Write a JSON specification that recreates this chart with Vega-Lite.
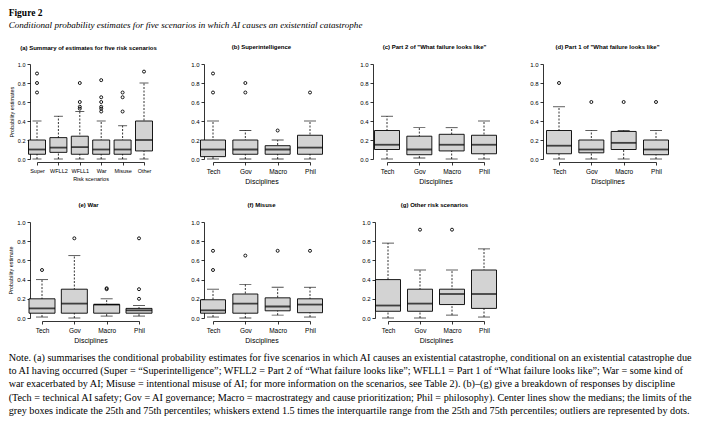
{
  "$schema": "https://vega.github.io/schema/vega-lite/v6.json",
  "padding": {"left": 8, "top": 8, "right": 2, "bottom": 2},
  "title": {
    "text": "Figure 2",
    "subtitle": "Conditional probability estimates for five scenarios in which AI causes an existential catastrophe",
    "anchor": "start",
    "frame": "bounds",
    "font": "Liberation Serif",
    "fontSize": 9.5,
    "fontWeight": "bold",
    "color": "black",
    "subtitleFont": "Liberation Serif",
    "subtitleFontSize": 9.1,
    "subtitleFontStyle": "italic",
    "subtitleColor": "black",
    "subtitlePadding": 3,
    "offset": 14
  },
  "datasets": {
    "d": [
      {"p": "a", "c": "Super", "lo": 0, "q1": 0.05, "med": 0.1, "q3": 0.2, "hi": 0.4},
      {"p": "a", "c": "WFLL2", "lo": 0, "q1": 0.07, "med": 0.12, "q3": 0.225, "hi": 0.45},
      {"p": "a", "c": "WFLL1", "lo": 0, "q1": 0.05, "med": 0.125, "q3": 0.24, "hi": 0.5},
      {"p": "a", "c": "War", "lo": 0, "q1": 0.05, "med": 0.1, "q3": 0.2, "hi": 0.4},
      {"p": "a", "c": "Misuse", "lo": 0, "q1": 0.05, "med": 0.1, "q3": 0.2, "hi": 0.35},
      {"p": "a", "c": "Other", "lo": 0, "q1": 0.085, "med": 0.2, "q3": 0.4, "hi": 0.8},
      {"p": "a", "c": "Super", "v": 0.7}, {"p": "a", "c": "Super", "v": 0.8}, {"p": "a", "c": "Super", "v": 0.9},
      {"p": "a", "c": "WFLL1", "v": 0.53}, {"p": "a", "c": "WFLL1", "v": 0.55}, {"p": "a", "c": "WFLL1", "v": 0.6}, {"p": "a", "c": "WFLL1", "v": 0.8},
      {"p": "a", "c": "War", "v": 0.5}, {"p": "a", "c": "War", "v": 0.53}, {"p": "a", "c": "War", "v": 0.55}, {"p": "a", "c": "War", "v": 0.6}, {"p": "a", "c": "War", "v": 0.65}, {"p": "a", "c": "War", "v": 0.83},
      {"p": "a", "c": "Misuse", "v": 0.5}, {"p": "a", "c": "Misuse", "v": 0.65}, {"p": "a", "c": "Misuse", "v": 0.7},
      {"p": "a", "c": "Other", "v": 0.92},

      {"p": "b", "c": "Tech", "lo": 0, "q1": 0.025, "med": 0.1, "q3": 0.2, "hi": 0.4},
      {"p": "b", "c": "Gov", "lo": 0, "q1": 0.05, "med": 0.1, "q3": 0.2, "hi": 0.3},
      {"p": "b", "c": "Macro", "lo": 0, "q1": 0.05, "med": 0.1, "q3": 0.14, "hi": 0.2},
      {"p": "b", "c": "Phil", "lo": 0, "q1": 0.05, "med": 0.12, "q3": 0.25, "hi": 0.4},
      {"p": "b", "c": "Tech", "v": 0.7}, {"p": "b", "c": "Tech", "v": 0.9},
      {"p": "b", "c": "Gov", "v": 0.7}, {"p": "b", "c": "Gov", "v": 0.8},
      {"p": "b", "c": "Macro", "v": 0.3},
      {"p": "b", "c": "Phil", "v": 0.7},

      {"p": "c", "c": "Tech", "lo": 0, "q1": 0.1, "med": 0.15, "q3": 0.3, "hi": 0.45},
      {"p": "c", "c": "Gov", "lo": 0.01, "q1": 0.045, "med": 0.1, "q3": 0.24, "hi": 0.33},
      {"p": "c", "c": "Macro", "lo": 0, "q1": 0.085, "med": 0.15, "q3": 0.26, "hi": 0.33},
      {"p": "c", "c": "Phil", "lo": 0, "q1": 0.055, "med": 0.15, "q3": 0.25, "hi": 0.4},

      {"p": "d", "c": "Tech", "lo": 0, "q1": 0.055, "med": 0.14, "q3": 0.3, "hi": 0.55},
      {"p": "d", "c": "Gov", "lo": 0, "q1": 0.065, "med": 0.1, "q3": 0.2, "hi": 0.3},
      {"p": "d", "c": "Macro", "lo": 0, "q1": 0.1, "med": 0.17, "q3": 0.29, "hi": 0.3},
      {"p": "d", "c": "Phil", "lo": 0, "q1": 0.045, "med": 0.1, "q3": 0.2, "hi": 0.3},
      {"p": "d", "c": "Tech", "v": 0.8}, {"p": "d", "c": "Gov", "v": 0.6}, {"p": "d", "c": "Macro", "v": 0.6}, {"p": "d", "c": "Phil", "v": 0.6},

      {"p": "e", "c": "Tech", "lo": 0.01, "q1": 0.05, "med": 0.1, "q3": 0.2, "hi": 0.4},
      {"p": "e", "c": "Gov", "lo": 0, "q1": 0.05, "med": 0.15, "q3": 0.3, "hi": 0.65},
      {"p": "e", "c": "Macro", "lo": 0.02, "q1": 0.05, "med": 0.14, "q3": 0.14, "hi": 0.2},
      {"p": "e", "c": "Phil", "lo": 0.02, "q1": 0.05, "med": 0.08, "q3": 0.1, "hi": 0.13},
      {"p": "e", "c": "Tech", "v": 0.5}, {"p": "e", "c": "Gov", "v": 0.83},
      {"p": "e", "c": "Macro", "v": 0.3}, {"p": "e", "c": "Macro", "v": 0.31},
      {"p": "e", "c": "Phil", "v": 0.2}, {"p": "e", "c": "Phil", "v": 0.3}, {"p": "e", "c": "Phil", "v": 0.83},

      {"p": "f", "c": "Tech", "lo": 0.01, "q1": 0.05, "med": 0.08, "q3": 0.19, "hi": 0.3},
      {"p": "f", "c": "Gov", "lo": 0, "q1": 0.05, "med": 0.15, "q3": 0.25, "hi": 0.35},
      {"p": "f", "c": "Macro", "lo": 0.03, "q1": 0.075, "med": 0.12, "q3": 0.21, "hi": 0.32},
      {"p": "f", "c": "Phil", "lo": 0.01, "q1": 0.055, "med": 0.14, "q3": 0.2, "hi": 0.32},
      {"p": "f", "c": "Tech", "v": 0.5}, {"p": "f", "c": "Tech", "v": 0.7}, {"p": "f", "c": "Gov", "v": 0.65}, {"p": "f", "c": "Macro", "v": 0.7}, {"p": "f", "c": "Phil", "v": 0.7},

      {"p": "g", "c": "Tech", "lo": 0, "q1": 0.07, "med": 0.13, "q3": 0.4, "hi": 0.78},
      {"p": "g", "c": "Gov", "lo": 0, "q1": 0.07, "med": 0.15, "q3": 0.3, "hi": 0.5},
      {"p": "g", "c": "Macro", "lo": 0.03, "q1": 0.14, "med": 0.25, "q3": 0.3, "hi": 0.5},
      {"p": "g", "c": "Phil", "lo": 0.01, "q1": 0.1, "med": 0.25, "q3": 0.5, "hi": 0.72},
      {"p": "g", "c": "Gov", "v": 0.92}, {"p": "g", "c": "Macro", "v": 0.92}
    ]
  },
  "vconcat": [
    {
      "hconcat": [
        {
          "width": 97, "height": 95,
          "title": {"text": "(a) Summary of estimates for five risk scenarios"},
          "data": {"name": "d"},
          "transform": [{"filter": "datum.p === 'a'"}],
          "encoding": {"x": {"field": "c", "type": "nominal", "title": "Risk scenarios", "scale": {"type": "point", "domain": ["Super", "WFLL2", "WFLL1", "War", "Misuse", "Other"], "range": [-3, 104], "padding": 0}, "axis": {"labelFontSize": 5.5, "titleFontSize": 5.5}}},
          "layer": [
            {"transform": [{"filter": "isValid(datum.med)"}], "mark": {"type": "rule", "color": "black", "strokeWidth": 0.8, "strokeDash": [2, 1.5]}, "encoding": {"y": {"field": "lo", "type": "quantitative", "title": "Probability estimates", "scale": {"domain": [0, 1], "nice": false, "zero": false}, "axis": {"tickCount": 5, "offset": 10, "labelFontSize": 5.5, "labelOverlap": false, "labelSeparation": -40, "labelBound": false}}, "y2": {"field": "hi"}}},
            {"transform": [{"filter": "isValid(datum.med)"}], "mark": {"type": "tick", "color": "black", "size": 9, "thickness": 0.9}, "encoding": {"y": {"field": "lo", "type": "quantitative", "title": "Probability estimates"}}},
            {"transform": [{"filter": "isValid(datum.med)"}], "mark": {"type": "tick", "color": "black", "size": 9, "thickness": 0.9}, "encoding": {"y": {"field": "hi", "type": "quantitative", "title": "Probability estimates"}}},
            {"transform": [{"filter": "isValid(datum.med)"}], "mark": {"type": "bar", "width": 17, "fill": "#d3d3d3", "stroke": "black", "strokeWidth": 0.9}, "encoding": {"y": {"field": "q1", "type": "quantitative", "title": "Probability estimates"}, "y2": {"field": "q3"}}},
            {"transform": [{"filter": "isValid(datum.med)"}], "mark": {"type": "tick", "color": "black", "size": 17, "thickness": 1.8}, "encoding": {"y": {"field": "med", "type": "quantitative", "title": "Probability estimates"}}},
            {"transform": [{"filter": "isValid(datum.v)"}], "mark": {"type": "point", "shape": "circle", "filled": false, "color": "black", "opacity": 1, "size": 9, "strokeWidth": 0.9}, "encoding": {"y": {"field": "v", "type": "quantitative", "title": "Probability estimates"}}}
          ]
        },
        {
          "width": 97, "height": 95,
          "title": {"text": "(b) Superintelligence"},
          "data": {"name": "d"},
          "transform": [{"filter": "datum.p === 'b'"}],
          "encoding": {"x": {"field": "c", "type": "nominal", "title": "Disciplines", "scale": {"type": "point", "domain": ["Tech", "Gov", "Macro", "Phil"], "range": [0, 97], "padding": 0}}},
          "layer": [
            {"transform": [{"filter": "isValid(datum.med)"}], "mark": {"type": "rule", "color": "black", "strokeWidth": 0.8, "strokeDash": [2, 1.5]}, "encoding": {"y": {"field": "lo", "type": "quantitative", "title": null, "scale": {"domain": [0, 1], "nice": false, "zero": false}, "axis": {"tickCount": 5, "offset": 9, "labelOverlap": false, "labelSeparation": -40, "labelBound": false}}, "y2": {"field": "hi"}}},
            {"transform": [{"filter": "isValid(datum.med)"}], "mark": {"type": "tick", "color": "black", "size": 12, "thickness": 0.9}, "encoding": {"y": {"field": "lo", "type": "quantitative", "title": null}}},
            {"transform": [{"filter": "isValid(datum.med)"}], "mark": {"type": "tick", "color": "black", "size": 12, "thickness": 0.9}, "encoding": {"y": {"field": "hi", "type": "quantitative", "title": null}}},
            {"transform": [{"filter": "isValid(datum.med)"}], "mark": {"type": "bar", "width": 25, "fill": "#d3d3d3", "stroke": "black", "strokeWidth": 0.9}, "encoding": {"y": {"field": "q1", "type": "quantitative", "title": null}, "y2": {"field": "q3"}}},
            {"transform": [{"filter": "isValid(datum.med)"}], "mark": {"type": "tick", "color": "black", "size": 25, "thickness": 1.8}, "encoding": {"y": {"field": "med", "type": "quantitative", "title": null}}},
            {"transform": [{"filter": "isValid(datum.v)"}], "mark": {"type": "point", "shape": "circle", "filled": false, "color": "black", "opacity": 1, "size": 9, "strokeWidth": 0.9}, "encoding": {"y": {"field": "v", "type": "quantitative", "title": null}}}
          ]
        },
        {
          "width": 97, "height": 95,
          "title": {"text": "(c) Part 2 of \"What failure looks like\""},
          "data": {"name": "d"},
          "transform": [{"filter": "datum.p === 'c'"}],
          "encoding": {"x": {"field": "c", "type": "nominal", "title": "Disciplines", "scale": {"type": "point", "domain": ["Tech", "Gov", "Macro", "Phil"], "range": [1, 98], "padding": 0}}},
          "layer": [
            {"transform": [{"filter": "isValid(datum.med)"}], "mark": {"type": "rule", "color": "black", "strokeWidth": 0.8, "strokeDash": [2, 1.5]}, "encoding": {"y": {"field": "lo", "type": "quantitative", "title": null, "scale": {"domain": [0, 1], "nice": false, "zero": false}, "axis": {"tickCount": 5, "offset": 13, "labelOverlap": false, "labelSeparation": -40, "labelBound": false}}, "y2": {"field": "hi"}}},
            {"transform": [{"filter": "isValid(datum.med)"}], "mark": {"type": "tick", "color": "black", "size": 12, "thickness": 0.9}, "encoding": {"y": {"field": "lo", "type": "quantitative", "title": null}}},
            {"transform": [{"filter": "isValid(datum.med)"}], "mark": {"type": "tick", "color": "black", "size": 12, "thickness": 0.9}, "encoding": {"y": {"field": "hi", "type": "quantitative", "title": null}}},
            {"transform": [{"filter": "isValid(datum.med)"}], "mark": {"type": "bar", "width": 25, "fill": "#d3d3d3", "stroke": "black", "strokeWidth": 0.9}, "encoding": {"y": {"field": "q1", "type": "quantitative", "title": null}, "y2": {"field": "q3"}}},
            {"transform": [{"filter": "isValid(datum.med)"}], "mark": {"type": "tick", "color": "black", "size": 25, "thickness": 1.8}, "encoding": {"y": {"field": "med", "type": "quantitative", "title": null}}}
          ]
        },
        {
          "width": 97, "height": 95,
          "title": {"text": "(d) Part 1 of \"What failure looks like\""},
          "data": {"name": "d"},
          "transform": [{"filter": "datum.p === 'd'"}],
          "encoding": {"x": {"field": "c", "type": "nominal", "title": "Disciplines", "scale": {"type": "point", "domain": ["Tech", "Gov", "Macro", "Phil"], "range": [0, 97], "padding": 0}}},
          "layer": [
            {"transform": [{"filter": "isValid(datum.med)"}], "mark": {"type": "rule", "color": "black", "strokeWidth": 0.8, "strokeDash": [2, 1.5]}, "encoding": {"y": {"field": "lo", "type": "quantitative", "title": null, "scale": {"domain": [0, 1], "nice": false, "zero": false}, "axis": {"tickCount": 5, "offset": 16, "labelOverlap": false, "labelSeparation": -40, "labelBound": false}}, "y2": {"field": "hi"}}},
            {"transform": [{"filter": "isValid(datum.med)"}], "mark": {"type": "tick", "color": "black", "size": 12, "thickness": 0.9}, "encoding": {"y": {"field": "lo", "type": "quantitative", "title": null}}},
            {"transform": [{"filter": "isValid(datum.med)"}], "mark": {"type": "tick", "color": "black", "size": 12, "thickness": 0.9}, "encoding": {"y": {"field": "hi", "type": "quantitative", "title": null}}},
            {"transform": [{"filter": "isValid(datum.med)"}], "mark": {"type": "bar", "width": 25, "fill": "#d3d3d3", "stroke": "black", "strokeWidth": 0.9}, "encoding": {"y": {"field": "q1", "type": "quantitative", "title": null}, "y2": {"field": "q3"}}},
            {"transform": [{"filter": "isValid(datum.med)"}], "mark": {"type": "tick", "color": "black", "size": 25, "thickness": 1.8}, "encoding": {"y": {"field": "med", "type": "quantitative", "title": null}}},
            {"transform": [{"filter": "isValid(datum.v)"}], "mark": {"type": "point", "shape": "circle", "filled": false, "color": "black", "opacity": 1, "size": 9, "strokeWidth": 0.9}, "encoding": {"y": {"field": "v", "type": "quantitative", "title": null}}}
          ]
        }
      ],
      "spacing": 76,
      "bounds": "flush"
    },
    {
      "title": {
        "text": [
          "Note. (a) summarises the conditional probability estimates for five scenarios in which AI causes an existential catastrophe, conditional on an existential catastrophe due",
          "to AI having occurred (Super = “Superintelligence”; WFLL2 = Part 2 of “What failure looks like”; WFLL1 = Part 1 of “What failure looks like”; War = some kind of",
          "war exacerbated by AI; Misuse = intentional misuse of AI; for more information on the scenarios, see Table 2). (b)–(g) give a breakdown of responses by discipline",
          "(Tech = technical AI safety; Gov = AI governance; Macro = macrostrategy and cause prioritization; Phil = philosophy). Center lines show the medians; the limits of the",
          "grey boxes indicate the 25th and 75th percentiles; whiskers extend 1.5 times the interquartile range from the 25th and 75th percentiles; outliers are represented by dots."
        ],
        "orient": "bottom",
        "anchor": "start",
        "frame": "bounds",
        "font": "Liberation Serif",
        "fontSize": 10.2,
        "fontWeight": "normal",
        "color": "black",
        "lineHeight": 13.4,
        "offset": 9
      },
      "hconcat": [
        {
          "width": 97, "height": 96,
          "title": {"text": "(e) War"},
          "data": {"name": "d"},
          "transform": [{"filter": "datum.p === 'e'"}],
          "encoding": {"x": {"field": "c", "type": "nominal", "title": "Disciplines", "scale": {"type": "point", "domain": ["Tech", "Gov", "Macro", "Phil"], "range": [2, 99], "padding": 0}}},
          "layer": [
            {"transform": [{"filter": "isValid(datum.med)"}], "mark": {"type": "rule", "color": "black", "strokeWidth": 0.8, "strokeDash": [2, 1.5]}, "encoding": {"y": {"field": "lo", "type": "quantitative", "title": "Probability estimate", "scale": {"domain": [0, 1], "nice": false, "zero": false}, "axis": {"tickCount": 5, "offset": 10, "labelOverlap": false, "labelSeparation": -40, "labelBound": false}}, "y2": {"field": "hi"}}},
            {"transform": [{"filter": "isValid(datum.med)"}], "mark": {"type": "tick", "color": "black", "size": 12, "thickness": 0.9}, "encoding": {"y": {"field": "lo", "type": "quantitative", "title": "Probability estimate"}}},
            {"transform": [{"filter": "isValid(datum.med)"}], "mark": {"type": "tick", "color": "black", "size": 12, "thickness": 0.9}, "encoding": {"y": {"field": "hi", "type": "quantitative", "title": "Probability estimate"}}},
            {"transform": [{"filter": "isValid(datum.med)"}], "mark": {"type": "bar", "width": 26, "fill": "#d3d3d3", "stroke": "black", "strokeWidth": 0.9}, "encoding": {"y": {"field": "q1", "type": "quantitative", "title": "Probability estimate"}, "y2": {"field": "q3"}}},
            {"transform": [{"filter": "isValid(datum.med)"}], "mark": {"type": "tick", "color": "black", "size": 26, "thickness": 1.8}, "encoding": {"y": {"field": "med", "type": "quantitative", "title": "Probability estimate"}}},
            {"transform": [{"filter": "isValid(datum.v)"}], "mark": {"type": "point", "shape": "circle", "filled": false, "color": "black", "opacity": 1, "size": 9, "strokeWidth": 0.9}, "encoding": {"y": {"field": "v", "type": "quantitative", "title": "Probability estimate"}}}
          ]
        },
        {
          "width": 97, "height": 96,
          "title": {"text": "(f) Misuse"},
          "data": {"name": "d"},
          "transform": [{"filter": "datum.p === 'f'"}],
          "encoding": {"x": {"field": "c", "type": "nominal", "title": "Disciplines", "scale": {"type": "point", "domain": ["Tech", "Gov", "Macro", "Phil"], "range": [0, 97], "padding": 0}}},
          "layer": [
            {"transform": [{"filter": "isValid(datum.med)"}], "mark": {"type": "rule", "color": "black", "strokeWidth": 0.8, "strokeDash": [2, 1.5]}, "encoding": {"y": {"field": "lo", "type": "quantitative", "title": null, "scale": {"domain": [0, 1], "nice": false, "zero": false}, "axis": {"tickCount": 5, "offset": 9, "labelOverlap": false, "labelSeparation": -40, "labelBound": false}}, "y2": {"field": "hi"}}},
            {"transform": [{"filter": "isValid(datum.med)"}], "mark": {"type": "tick", "color": "black", "size": 12, "thickness": 0.9}, "encoding": {"y": {"field": "lo", "type": "quantitative", "title": null}}},
            {"transform": [{"filter": "isValid(datum.med)"}], "mark": {"type": "tick", "color": "black", "size": 12, "thickness": 0.9}, "encoding": {"y": {"field": "hi", "type": "quantitative", "title": null}}},
            {"transform": [{"filter": "isValid(datum.med)"}], "mark": {"type": "bar", "width": 25, "fill": "#d3d3d3", "stroke": "black", "strokeWidth": 0.9}, "encoding": {"y": {"field": "q1", "type": "quantitative", "title": null}, "y2": {"field": "q3"}}},
            {"transform": [{"filter": "isValid(datum.med)"}], "mark": {"type": "tick", "color": "black", "size": 25, "thickness": 1.8}, "encoding": {"y": {"field": "med", "type": "quantitative", "title": null}}},
            {"transform": [{"filter": "isValid(datum.v)"}], "mark": {"type": "point", "shape": "circle", "filled": false, "color": "black", "opacity": 1, "size": 9, "strokeWidth": 0.9}, "encoding": {"y": {"field": "v", "type": "quantitative", "title": null}}}
          ]
        },
        {
          "width": 97, "height": 96,
          "title": {"text": "(g) Other risk scenarios"},
          "data": {"name": "d"},
          "transform": [{"filter": "datum.p === 'g'"}],
          "encoding": {"x": {"field": "c", "type": "nominal", "title": "Disciplines", "scale": {"type": "point", "domain": ["Tech", "Gov", "Macro", "Phil"], "range": [2, 98], "padding": 0}}},
          "layer": [
            {"transform": [{"filter": "isValid(datum.med)"}], "mark": {"type": "rule", "color": "black", "strokeWidth": 0.8, "strokeDash": [2, 1.5]}, "encoding": {"y": {"field": "lo", "type": "quantitative", "title": null, "scale": {"domain": [0, 1], "nice": false, "zero": false}, "axis": {"tickCount": 5, "offset": 11, "labelOverlap": false, "labelSeparation": -40, "labelBound": false}}, "y2": {"field": "hi"}}},
            {"transform": [{"filter": "isValid(datum.med)"}], "mark": {"type": "tick", "color": "black", "size": 12, "thickness": 0.9}, "encoding": {"y": {"field": "lo", "type": "quantitative", "title": null}}},
            {"transform": [{"filter": "isValid(datum.med)"}], "mark": {"type": "tick", "color": "black", "size": 12, "thickness": 0.9}, "encoding": {"y": {"field": "hi", "type": "quantitative", "title": null}}},
            {"transform": [{"filter": "isValid(datum.med)"}], "mark": {"type": "bar", "width": 25, "fill": "#d3d3d3", "stroke": "black", "strokeWidth": 0.9}, "encoding": {"y": {"field": "q1", "type": "quantitative", "title": null}, "y2": {"field": "q3"}}},
            {"transform": [{"filter": "isValid(datum.med)"}], "mark": {"type": "tick", "color": "black", "size": 25, "thickness": 1.8}, "encoding": {"y": {"field": "med", "type": "quantitative", "title": null}}},
            {"transform": [{"filter": "isValid(datum.v)"}], "mark": {"type": "point", "shape": "circle", "filled": false, "color": "black", "opacity": 1, "size": 9, "strokeWidth": 0.9}, "encoding": {"y": {"field": "v", "type": "quantitative", "title": null}}}
          ]
        }
      ],
      "spacing": 76,
      "bounds": "flush"
    }
  ],
  "spacing": 17,
  "config": {
    "view": {"stroke": null},
    "font": "Liberation Sans",
    "axis": {
      "grid": false,
      "domainColor": "black",
      "tickColor": "black",
      "labelColor": "black",
      "titleColor": "black",
      "labelFont": "Liberation Sans",
      "titleFont": "Liberation Sans",
      "titleFontWeight": "normal",
      "domainWidth": 0.8,
      "tickWidth": 0.8,
      "tickSize": 3
    },
    "axisX": {"offset": 3, "labelAngle": 0, "labelPadding": 3, "titlePadding": 3, "labelFontSize": 6.5, "titleFontSize": 7},
    "axisY": {"labelPadding": 2, "titlePadding": 3, "labelFontSize": 6, "titleFontSize": 5.5, "format": ".1f"},
    "title": {"font": "Liberation Sans", "fontSize": 6, "fontWeight": "bold", "frame": "group", "offset": 11, "color": "black"}
  }
}
